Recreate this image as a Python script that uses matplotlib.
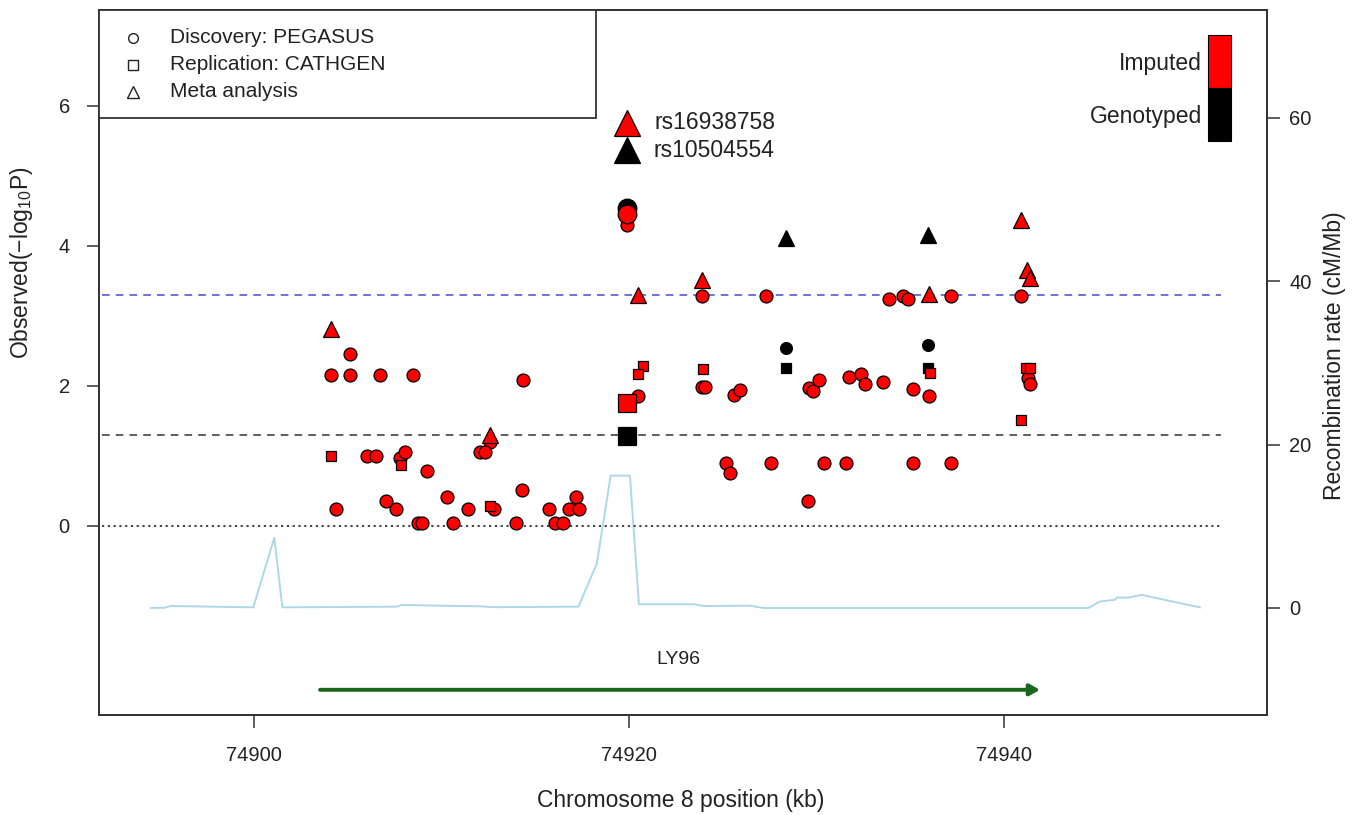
import matplotlib
matplotlib.use("Agg")
import matplotlib.pyplot as plt
from matplotlib.patches import Rectangle, FancyArrowPatch

plt.rcParams['font.family'] = ['Liberation Sans', 'DejaVu Sans']
plt.rcParams['mathtext.fontset'] = 'custom'
plt.rcParams['mathtext.rm'] = 'Liberation Sans'
plt.rcParams['mathtext.it'] = 'Liberation Sans:italic'

# ---------------- data ----------------
# Discovery (PEGASUS), imputed SNPs: position (kb), -log10 P
disc_imp_pos = [74904.1, 74905.1, 74905.1, 74906.7, 74908.5, 74914.33, 74912.59, 74906.0, 74906.5,
                74907.8, 74908.05, 74909.2, 74912.05, 74912.3, 74914.28, 74910.3, 74917.17, 74904.37,
                74907.04, 74907.57, 74911.4, 74912.8, 74915.75, 74916.8, 74917.35, 74908.77, 74908.98,
                74910.63, 74913.97, 74916.05, 74916.46, 74919.9, 74923.87, 74927.3, 74923.9, 74924.05,
                74920.5, 74925.6, 74925.9, 74929.6, 74929.83, 74930.15, 74931.75, 74932.4, 74932.59,
                74933.53, 74933.85, 74934.6, 74934.86, 74937.16, 74940.9, 74925.2, 74925.4, 74927.6,
                74930.4, 74931.57, 74929.56, 74935.16, 74936.0, 74941.3, 74941.4, 74935.16, 74937.2]
disc_imp_p = [2.15, 2.45, 2.15, 2.15, 2.15, 2.09, 1.20, 1.00, 1.00,
              0.97, 1.05, 0.78, 1.05, 1.05, 0.51, 0.41, 0.42, 0.24,
              0.35, 0.24, 0.24, 0.24, 0.24, 0.24, 0.24, 0.04, 0.04,
              0.04, 0.04, 0.04, 0.04, 4.30, 3.29, 3.29, 1.99, 1.99,
              1.85, 1.87, 1.94, 1.97, 1.93, 2.08, 2.13, 2.17, 2.03,
              2.05, 3.24, 3.28, 3.24, 3.28, 3.28, 0.90, 0.76, 0.90,
              0.90, 0.90, 0.36, 1.95, 1.86, 2.11, 2.03, 0.90, 0.90]
# Discovery, genotyped SNPs
disc_gen_pos = [74928.35, 74935.96]
disc_gen_p = [2.54, 2.59]

# Replication (CATHGEN)
rep_imp_pos = [74904.1, 74907.82, 74912.59, 74920.76, 74920.5, 74923.93, 74936.05, 74941.2, 74941.4, 74940.9]
rep_imp_p = [1.00, 0.87, 0.29, 2.28, 2.17, 2.24, 2.19, 2.26, 2.26, 1.52]
rep_gen_pos = [74928.35, 74935.96]
rep_gen_p = [2.26, 2.26]

# Meta analysis
meta_imp_pos = [74904.1, 74912.59, 74920.5, 74923.9, 74936.0, 74940.9, 74941.25, 74941.4]
meta_imp_p = [2.81, 1.30, 3.30, 3.52, 3.32, 4.37, 3.66, 3.54]
meta_gen_pos = [74928.35, 74935.96]
meta_gen_p = [4.12, 4.16]

# Lead SNPs: [imputed rs16938758, genotyped rs10504554]
lead_names = ['rs16938758', 'rs10504554']
lead_pos = [74919.9, 74919.87]
lead_disc = [4.45, 4.54]
lead_rep = [1.75, 1.29]
lead_meta = [5.76, 5.37]
lead_colors = ['#FF0000', '#000000']

# Recombination rate (cM/Mb)
recomb_pos = [74894.51, 74895.25, 74895.52, 74899.96, 74901.08, 74901.51, 74907.61, 74907.88, 74909.92,
              74912.05, 74912.75, 74917.3, 74918.28, 74919.02, 74920.05, 74920.53, 74923.52, 74923.96,
              74926.45, 74927.16, 74944.5, 74945.12, 74945.92, 74946.0, 74946.63, 74947.34, 74950.45]
recomb_rate = [0.0, 0.04, 0.24, 0.08, 8.6, 0.08, 0.16, 0.37, 0.28,
               0.2, 0.1, 0.16, 5.4, 16.2, 16.2, 0.45, 0.45, 0.24,
               0.28, 0.0, 0.0, 0.8, 1.0, 1.27, 1.27, 1.6, 0.08]

# Gene
gene_name = 'LY96'
gene_start = 74903.52
gene_end = 74941.92

# thresholds
thresholds = [3.3, 1.3, 0.0]

xticks = [74900, 74920, 74940]
yticks = [0, 2, 4, 6]
y2ticks = [0, 20, 40, 60]

# ---------------- figure ----------------
W, H = 1362, 815
fig = plt.figure(figsize=(W / 100, H / 100), dpi=100)
L, R, T, B = 99, 1267, 10, 715
ax = fig.add_axes([L / W, 1 - B / H, (R - L) / W, (B - T) / H])
ax2 = ax.twinx()
ax.set_zorder(ax2.get_zorder() + 1)
ax.patch.set_visible(False)

ax.set_xlim(74891.73, 74954.03)
ax.set_ylim(-2.70, 7.371)
ax2.set_ylim(-13.1, 73.2)

FS = 14.5      # tick labels
FS_LEG = 15.0  # legend
FS_LAB = 16.5  # axis labels / key / lead labels
TXT = '#222222'
spine_c = '#333333'
for a in (ax, ax2):
    for s in a.spines.values():
        s.set_color(spine_c)
        s.set_linewidth(1.3)
ax.set_xticks(xticks)
ax.set_xticklabels([str(v) for v in xticks])
ax.set_yticks(yticks)
ax2.set_yticks(y2ticks)
ax.tick_params(axis='both', direction='out', length=9, width=1.1, color=spine_c, labelsize=FS,
               labelcolor=TXT)
ax.tick_params(axis='x', pad=13)
ax.tick_params(axis='y', pad=12)
ax2.tick_params(axis='y', direction='out', length=9, width=1.1, color=spine_c, labelsize=FS, pad=7,
                labelcolor=TXT)

# recombination line
ax2.plot(recomb_pos, recomb_rate, color='#ADD8E6', lw=1.4, zorder=1)

# threshold lines
ax.hlines(thresholds[0], 74891.9, 74951.6, colors='#4a4ac8', linestyles=(0, (5, 4)), lw=1.1, zorder=1)
ax.hlines(thresholds[1], 74891.9, 74951.6, colors='#333333', linestyles=(0, (5, 4)), lw=1.1, zorder=1)
ax.hlines(thresholds[2], 74891.9, 74951.6, colors='#333333', linestyles=(0, (1.2, 2.0)), lw=1.3, zorder=1)

edge_w = 0.9
RED = '#FF0000'
# regular points
ax.plot(disc_gen_pos, disc_gen_p, 'o', ms=8.5, mfc='black', mec='black', mew=edge_w, zorder=3)
ax.plot(rep_gen_pos, rep_gen_p, 's', ms=7.0, mfc='black', mec='black', mew=edge_w, zorder=3)
ax.plot(meta_gen_pos, meta_gen_p, '^', ms=11, mfc='black', mec='black', mew=edge_w, zorder=3)
ax.plot(disc_imp_pos, disc_imp_p, 'o', ms=9.3, mfc=RED, mec='black', mew=edge_w, zorder=4)
ax.plot(rep_imp_pos, rep_imp_p, 's', ms=7.0, mfc=RED, mec='black', mew=edge_w, zorder=4)
ax.plot(meta_imp_pos, meta_imp_p, '^', ms=11, mfc=RED, mec='black', mew=edge_w, zorder=4)

# lead SNPs: genotyped first (underneath), then imputed
for i in [1, 0]:
    c = lead_colors[i]
    z = 5 if i == 1 else 6
    ax.plot(lead_pos[i], lead_disc[i], 'o', ms=13.4, mfc=c, mec='black', mew=edge_w, zorder=z)
    ax.plot(lead_pos[i], lead_rep[i], 's', ms=12.7, mfc=c, mec='black', mew=edge_w, zorder=z)
    ax.plot(lead_pos[i], lead_meta[i], '^', ms=19, mfc=c, mec='black', mew=edge_w, zorder=z)
    ax.text(lead_pos[i] + 1.45, lead_meta[i], lead_names[i], fontsize=FS_LAB, va='center', ha='left',
            color=TXT, zorder=z)

# gene arrow
gy = -2.34
arr = FancyArrowPatch((gene_start, gy), (gene_end, gy), arrowstyle='-|>,head_length=0.5,head_width=0.28',
                      color='#1a661a', lw=2.8, mutation_scale=12, shrinkA=0, shrinkB=0, zorder=3)
ax.add_patch(arr)
ax.text((gene_start + gene_end) / 2 - 0.1, -1.91, gene_name, fontsize=14, ha='center', va='center',
        color=TXT)

# legend box (top-left)
ax.add_patch(Rectangle((0, 0.8468), 0.4255, 0.1532, transform=ax.transAxes, fill=True, fc='white',
                       ec=spine_c, lw=1.3, zorder=7, clip_on=False))
leg_items = [('o', 'Discovery: PEGASUS', 0.9603, 7.0), ('s', 'Replication: CATHGEN', 0.922, 6.5),
             ('^', 'Meta analysis', 0.8837, 9.0)]
for m, lab, yy, ms in leg_items:
    ax.plot([0.0291], [yy], m, ms=ms, mfc='white', mec=TXT, mew=1.0, transform=ax.transAxes,
            zorder=8, clip_on=False)
    ax.text(0.0608, yy, lab, fontsize=FS_LEG, va='center', ha='left', transform=ax.transAxes, zorder=8,
            color=TXT)

# colour key (top-right)
ax.add_patch(Rectangle((0.9495, 0.8889), 0.0197, 0.0756, transform=ax.transAxes, fc=RED, ec='black',
                       lw=0.8, zorder=7))
ax.add_patch(Rectangle((0.9495, 0.8146), 0.0197, 0.0743, transform=ax.transAxes, fc='black', ec='black',
                       lw=0.8, zorder=7))
ax.text(0.9443, 0.9244, 'Imputed', fontsize=FS_LAB, ha='right', va='center', transform=ax.transAxes,
        color=TXT)
ax.text(0.9443, 0.8487, 'Genotyped', fontsize=FS_LAB, ha='right', va='center', transform=ax.transAxes,
        color=TXT)

# axis labels
fig.text(681 / W, 1 - 800 / H, 'Chromosome 8 position (kb)', fontsize=FS_LAB, ha='center', va='center',
         color=TXT)
fig.text(22 / W, 1 - 263 / H, 'Observed(\u2212log$_{\\mathregular{10}}$P)', fontsize=FS_LAB,
         ha='center', va='center', rotation=90, color=TXT)
fig.text(1335 / W, 1 - 356 / H, 'Recombination rate (cM/Mb)', fontsize=FS_LAB, ha='center', va='center',
         rotation=90, color=TXT)

fig.savefig('out.png', dpi=100, facecolor='white')
